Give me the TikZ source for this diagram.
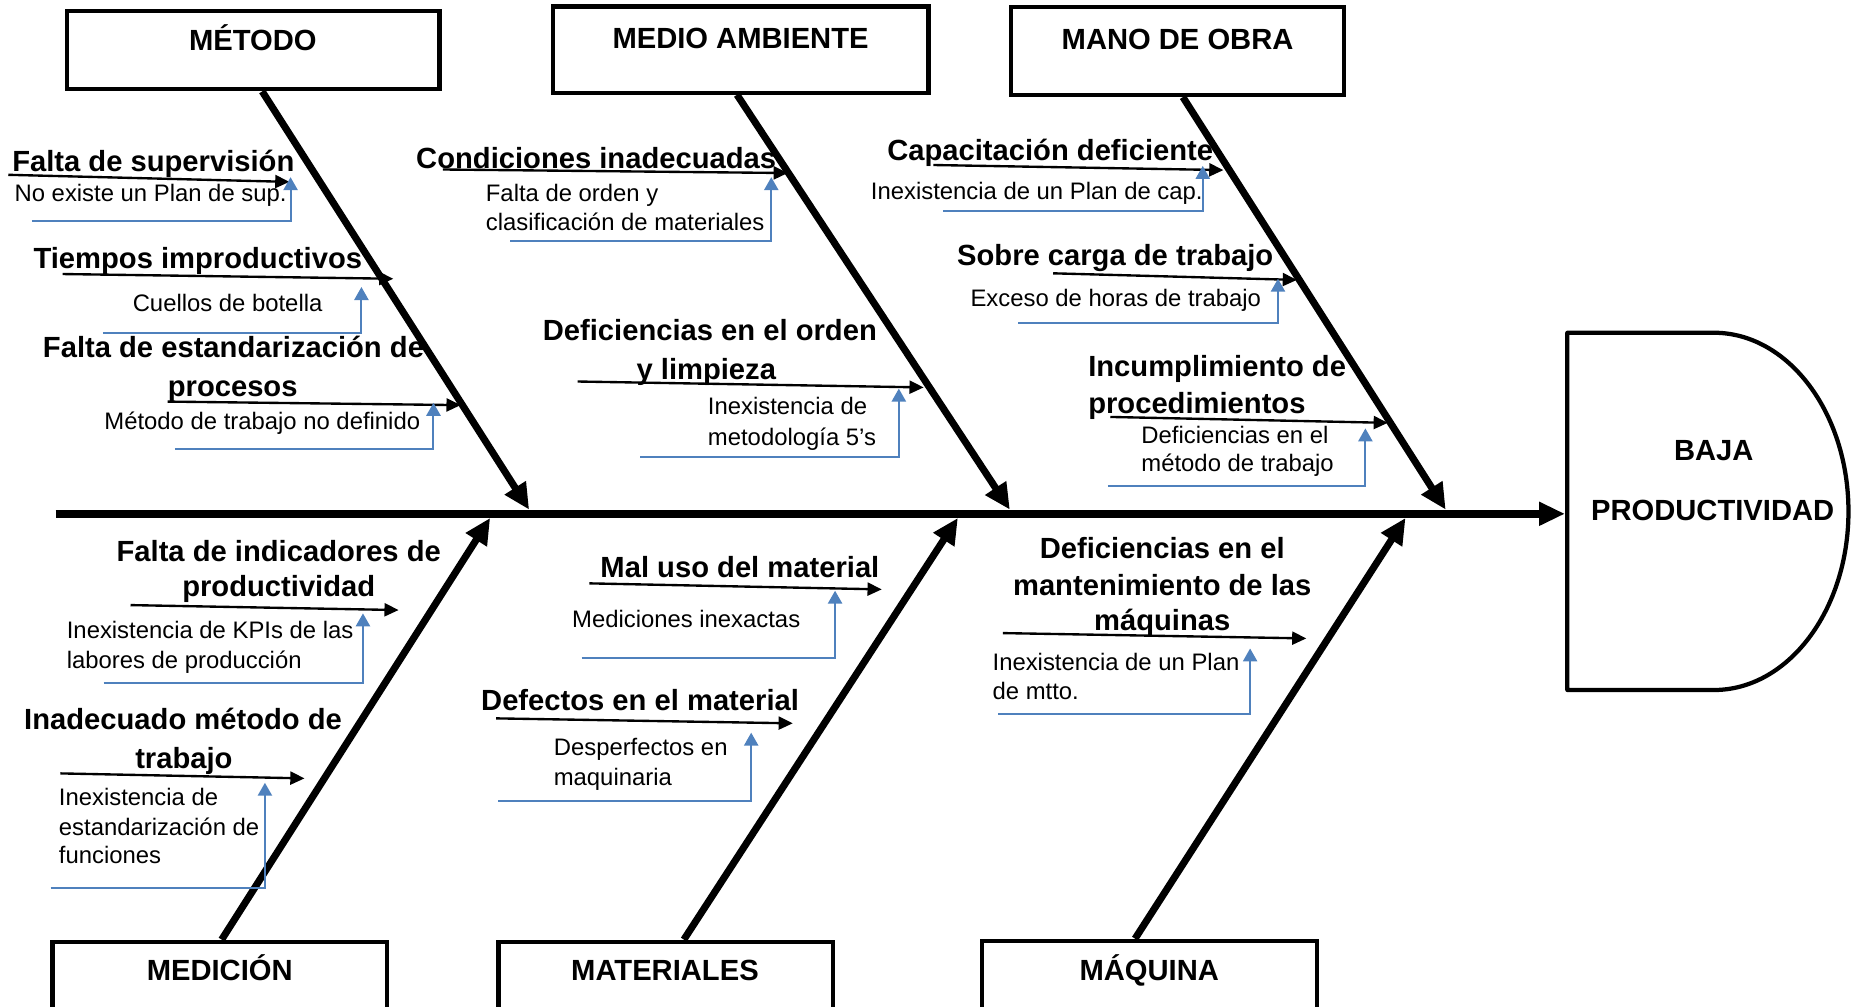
\documentclass[tikz,border=0pt]{standalone}
\usepackage{fontspec}
\setmainfont{Liberation Sans}
\usetikzlibrary{arrows.meta}
\definecolor{noteblue}{RGB}{79,129,189}
\begin{document}
\begin{tikzpicture}[x=0.5pt,y=-0.5pt,
  lab/.style={font=\bfseries\fontsize{12.35}{15}\selectfont, inner sep=0pt},
  sub/.style={font=\fontsize{10.1}{12}\selectfont, inner sep=0pt},
  catbox/.style={draw, line width=1.8pt, inner sep=0pt, fill=white},
  bone/.style={line width=3pt, -{Triangle[length=11pt,width=10pt]}},
  spine/.style={line width=3.2pt, -{Triangle[length=11pt,width=9.5pt]}},
  cause/.style={line width=1pt, -{Triangle[length=6pt,width=5.5pt]}},
  note/.style={draw=noteblue, line width=0.85pt, -{Triangle[length=5.5pt,width=6pt]}},
  headline/.style={line width=1.8pt, line join=round}
]
\useasboundingbox (0,0) rectangle (1568,852);
\clip (0,0) rectangle (1568,852);

% ---------- category boxes ----------
\node[catbox, minimum width=157.5pt, minimum height=33.3pt] (metodo) at (214.5,42.3) {};
\node[catbox, minimum width=159pt, minimum height=36.45pt] (medio) at (627,42) {};
\node[catbox, minimum width=141pt, minimum height=37.1pt] (mano) at (997,43.3) {};
\node[catbox, minimum width=141.5pt, minimum height=51.35pt] (medicion) at (186,848.65) {};
\node[catbox, minimum width=141.5pt, minimum height=51.35pt] (materiales) at (563.5,848.65) {};
\node[catbox, minimum width=141.8pt, minimum height=51.75pt] (maquina) at (973.2,848.25) {};

\node[lab, anchor=base] (metodoT) at (214,43) {MÉTODO};
\node[lab, anchor=base] (medioT) at (627,41) {MEDIO AMBIENTE};
\node[lab, anchor=base] (manoT) at (997,42) {MANO DE OBRA};
\node[lab, anchor=base] (medicionT) at (186,830) {MEDICIÓN};
\node[lab, anchor=base] (materialesT) at (563,830) {MATERIALES};
\node[lab, anchor=base] (maquinaT) at (973,830) {MÁQUINA};

% ---------- head ----------
\draw[headline] (1327,281.7) -- (1451,281.7)
  .. controls (1514,281.7) and (1565,349.5) .. (1565,433)
  .. controls (1565,516.5) and (1514,584.2) .. (1451,584.2)
  -- (1327,584.2) -- cycle;
\coordinate (headW) at (1325,435);
\node[lab, anchor=base] (bajaT) at (1451,389.5) {BAJA};
\node[lab, anchor=base] (prodT) at (1450,440.9) {PRODUCTIVIDAD};

% ---------- spine ----------
\coordinate (spL) at (47,435);
\draw[spine] (spL) -- (headW);

% ---------- bones ----------
\coordinate (mB) at (222,0);   \coordinate (mT) at (448,431.5);
\coordinate (eB) at (624,0);   \coordinate (eT) at (855,431.5);
\coordinate (oB) at (1001.5,0);\coordinate (oT) at (1224,431.5);
\coordinate (dB) at (187.7,0); \coordinate (dT) at (415,438.5);
\coordinate (tB) at (579,0);   \coordinate (tT) at (811,438.5);
\coordinate (qB) at (961,0);   \coordinate (qT) at (1190,438.5);
\draw[bone] (metodo.south -| mB) -- (mT);
\draw[bone] (medio.south -| eB) -- (eT);
\draw[bone] (mano.south -| oB) -- (oT);
\draw[bone] (medicion.north -| dB) -- (dT);
\draw[bone] (materiales.north -| tB) -- (tT);
\draw[bone] (maquina.north -| qB) -- (qT);

% ---------- MÉTODO ----------
\node[lab, anchor=base west] (t1) at (10,145.4) {Falta de supervisión};
\node[sub, anchor=base west] (s1) at (12,170.8) {No existe un Plan de sup.};
\coordinate (a1s) at (7,148); \coordinate (a1e) at (245,154);
\draw[cause] (a1s) -- (a1e);
\coordinate (b1s) at (27,187); \coordinate (b1e) at (246,150);
\draw[note] (b1s) -| (b1e);

\node[lab, anchor=base west] (t2) at (28,227) {Tiempos improductivos};
\node[sub, anchor=base west] (s2) at (112,264) {Cuellos de botella};
\coordinate (a2s) at (53,232); \coordinate (a2e) at (333,236);
\draw[cause] (a2s) -- (a2e);
\coordinate (b2s) at (87,282); \coordinate (b2e) at (306,243);
\draw[note] (b2s) -| (b2e);

\node[lab, anchor=base west] (t3a) at (36,303) {Falta de estandarización de};
\node[lab, anchor=base] (t3b) at (197,336) {procesos};
\node[sub, anchor=base west] (s3) at (88,364) {Método de trabajo no definido};
\coordinate (a3s) at (142,340); \coordinate (a3e) at (390,343);
\draw[cause] (a3s) -- (a3e);
\coordinate (b3s) at (148,380); \coordinate (b3e) at (367,341);
\draw[note] (b3s) -| (b3e);

% ---------- MEDIO AMBIENTE ----------
\node[lab, anchor=base west] (t4) at (352,142.5) {Condiciones inadecuadas};
\node[sub, anchor=base west] (s4a) at (411,171) {Falta de orden y};
\node[sub, anchor=base west] (s4b) at (411,195) {clasificación de materiales};
\coordinate (a4s) at (375,143.5); \coordinate (a4e) at (667,146.5);
\draw[cause] (a4s) -- (a4e);
\coordinate (b4s) at (432,204); \coordinate (b4e) at (653,150);
\draw[note] (b4s) -| (b4e);

\node[lab, anchor=base] (t5a) at (601,288) {Deficiencias en el orden};
\node[lab, anchor=base] (t5b) at (598,321.5) {y limpieza};
\node[sub, anchor=base west] (s5a) at (599,351) {Inexistencia de};
\node[sub, anchor=base west] (s5b) at (599,377) {metodología 5’s};
\coordinate (a5s) at (489,323); \coordinate (a5e) at (782,328);
\draw[cause] (a5s) -- (a5e);
\coordinate (b5s) at (542,387); \coordinate (b5e) at (761,329);
\draw[note] (b5s) -| (b5e);

% ---------- MANO DE OBRA ----------
\node[lab, anchor=base west] (t6) at (750.8,135.5) {Capacitación deficiente};
\node[sub, anchor=base west] (s6) at (737,169) {Inexistencia de un Plan de cap.};
\coordinate (a6s) at (790.3,139.7); \coordinate (a6e) at (1035.8,144);
\draw[cause] (a6s) -- (a6e);
\coordinate (b6s) at (798.8,178.4); \coordinate (b6e) at (1018.3,140.5);
\draw[note] (b6s) -| (b6e);

\node[lab, anchor=base west] (t7) at (810,225.2) {Sobre carga de trabajo};
\node[sub, anchor=base west] (s7) at (821.3,259.7) {Exceso de horas de trabajo};
\coordinate (a7s) at (891.7,231.4); \coordinate (a7e) at (1098,237);
\draw[cause] (a7s) -- (a7e);
\coordinate (b7s) at (862,273.8); \coordinate (b7e) at (1082,236);
\draw[note] (b7s) -| (b7e);

\node[lab, anchor=base west] (t8a) at (921,319) {Incumplimiento de};
\node[lab, anchor=base west] (t8b) at (921,350) {procedimientos};
\node[sub, anchor=base west] (s8a) at (966,375.4) {Deficiencias en el};
\node[sub, anchor=base west] (s8b) at (966,399.4) {método de trabajo};
\coordinate (a8s) at (940,353); \coordinate (a8e) at (1175,358);
\draw[cause] (a8s) -- (a8e);
\coordinate (b8s) at (938,411.5); \coordinate (b8e) at (1156,362.7);
\draw[note] (b8s) -| (b8e);

% ---------- MEDICIÓN ----------
\node[lab, anchor=base] (t9a) at (236,475.6) {Falta de indicadores de};
\node[lab, anchor=base] (t9b) at (236,505.2) {productividad};
\node[sub, anchor=base west] (s9a) at (56.2,540.5) {Inexistencia de KPIs de las};
\node[sub, anchor=base west] (s9b) at (56.2,565.9) {labores de producción};
\coordinate (a9s) at (110.5,512.3); \coordinate (a9e) at (337.5,516.5);
\draw[cause] (a9s) -- (a9e);
\coordinate (b9s) at (87.7,578); \coordinate (b9e) at (307.3,519.3);
\draw[note] (b9s) -| (b9e);

\node[lab, anchor=base] (t10a) at (155,618) {Inadecuado método de};
\node[lab, anchor=base] (t10b) at (155.7,650.6) {trabajo};
\node[sub, anchor=base west] (s10a) at (49.5,681.6) {Inexistencia de};
\node[sub, anchor=base west] (s10b) at (49.5,707) {estandarización de};
\node[sub, anchor=base west] (s10c) at (49.5,731) {funciones};
\coordinate (a10s) at (51.2,654.8); \coordinate (a10e) at (257.8,659);
\draw[cause] (a10s) -- (a10e);
\coordinate (b10s) at (42.8,752.2); \coordinate (b10e) at (224.3,662.7);
\draw[note] (b10s) -| (b10e);

% ---------- MATERIALES ----------
\node[lab, anchor=base west] (t11) at (508,488.8) {Mal uso del material};
\node[sub, anchor=base west] (s11) at (484,531.2) {Mediciones inexactas};
\coordinate (a11s) at (499,493.9); \coordinate (a11e) at (746.5,499);
\draw[cause] (a11s) -- (a11e);
\coordinate (b11s) at (492.5,557.4); \coordinate (b11e) at (707,500.1);
\draw[note] (b11s) -| (b11e);

\node[lab, anchor=base west] (t12) at (407,601.7) {Defectos en el material};
\node[sub, anchor=base west] (s12a) at (468.5,639.3) {Desperfectos en};
\node[sub, anchor=base west] (s12b) at (468.5,664.7) {maquinaria};
\coordinate (a12s) at (420,608.2); \coordinate (a12e) at (671.2,612.4);
\draw[cause] (a12s) -- (a12e);
\coordinate (b12s) at (422,678); \coordinate (b12e) at (636,620.3);
\draw[note] (b12s) -| (b12e);

% ---------- MÁQUINA ----------
\node[lab, anchor=base] (t13a) at (984,472.7) {Deficiencias en el};
\node[lab, anchor=base] (t13b) at (984,503.8) {mantenimiento de las};
\node[lab, anchor=base] (t13c) at (984,533.4) {máquinas};
\node[sub, anchor=base west] (s13a) at (840,567.3) {Inexistencia de un Plan};
\node[sub, anchor=base west] (s13b) at (840,592) {de mtto.};
\coordinate (a13s) at (849,536); \coordinate (a13e) at (1106,540.5);
\draw[cause] (a13s) -- (a13e);
\coordinate (b13s) at (845,604.8); \coordinate (b13e) at (1058.4,549);
\draw[note] (b13s) -| (b13e);
\end{tikzpicture}
\end{document}
